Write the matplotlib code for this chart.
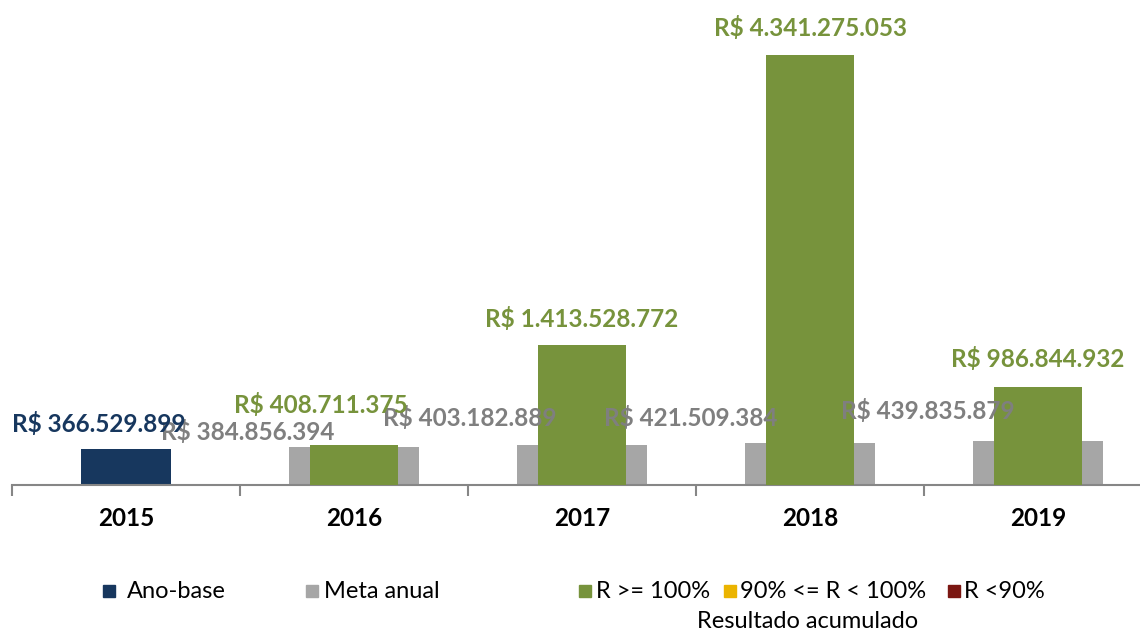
import matplotlib
matplotlib.use("Agg")
import matplotlib.pyplot as plt
from matplotlib.patches import Rectangle

plt.rcParams['font.family'] = ['Lato', 'DejaVu Sans']

years = ['2015', '2016', '2017', '2018', '2019']
base_value = 366529899
meta = [384856394, 403182889, 421509384, 439835879]
result = [408711375, 1413528772, 4341275053, 986844932]

NAVY = '#17375E'
GRAY = '#A6A6A6'
GRAY_TXT = '#7F7F7F'
GREEN = '#77933C'
YELLOW = '#EBB400'
RED = '#7B1712'


def brl(v):
    return 'R$ ' + f'{v:,}'.replace(',', '.')


fig = plt.figure(figsize=(11.4, 6.34), dpi=100)
ax = fig.add_axes([12 / 1140, 149 / 634, 1.0, 475 / 634])

x = list(range(len(years)))
mx = x[1:]
ax.bar(0, base_value / 1e6, width=0.395, color=NAVY, zorder=2)
ax.bar(mx, [m / 1e6 for m in meta], width=0.57, color=GRAY, zorder=2)
ax.bar(mx, [r / 1e6 for r in result], width=0.39, color=GREEN, zorder=3)

ax.set_xlim(-0.5, 4.5)
ax.set_ylim(0, 4800)

# data labels (offsets in pixels, like the excel chart)
lfs = 17.5
ax.annotate(brl(base_value), (0, base_value / 1e6), xytext=(-27, 25),
            textcoords='offset pixels', ha='center', va='center',
            fontsize=lfs, fontweight='bold', color=NAVY, zorder=6)
meta_off = [(-106, 15), (-112, 27), (-119, 25), (-110, 30)]
for xi, v, off in zip(mx, meta, meta_off):
    ax.annotate(brl(v), (xi, v / 1e6), xytext=off, textcoords='offset pixels',
                ha='center', va='center', fontsize=lfs, fontweight='bold',
                color=GRAY_TXT, zorder=5)
res_off = [(-33, 40), (0, 26), (0, 27), (0, 28)]
for xi, v, off in zip(mx, result, res_off):
    ax.annotate(brl(v), (xi, v / 1e6), xytext=off, textcoords='offset pixels',
                ha='center', va='center', fontsize=lfs, fontweight='bold',
                color=GREEN, zorder=5)

for s in ['top', 'right', 'left']:
    ax.spines[s].set_visible(False)
ax.spines['bottom'].set_color('#868686')
ax.spines['bottom'].set_linewidth(1.5)
ax.set_yticks([])
ax.set_xticks(x)
ax.set_xticklabels(years, fontsize=17.5, fontweight='bold')
ax.tick_params(axis='x', which='major', length=0, pad=16)
ax.set_xticks([i - 0.5 for i in range(len(years) + 1)], minor=True)
ax.tick_params(axis='x', which='minor', length=8, width=1.5, color='#868686')

# legend drawn by hand
legend = [(NAVY, 'Ano-base', 103, 127), (GRAY, 'Meta anual', 306, 324),
          (GREEN, 'R >= 100%', 579, 596), (YELLOW, '90% <= R < 100%', 724, 740),
          (RED, 'R <90%', 948, 964)]
ly = 591
for col, lab, px, tx in legend:
    fig.patches.append(Rectangle((px / 1140, (634 - ly - 6) / 634), 12 / 1140,
                                 12 / 634, transform=fig.transFigure,
                                 color=col))
    fig.text(tx / 1140, (634 - ly) / 634, lab, fontsize=17,
             va='center', ha='left')
fig.text(808 / 1140, (634 - 622) / 634, 'Resultado acumulado', fontsize=17,
         va='center', ha='center')

fig.savefig('out.png', dpi=100, facecolor='white')
